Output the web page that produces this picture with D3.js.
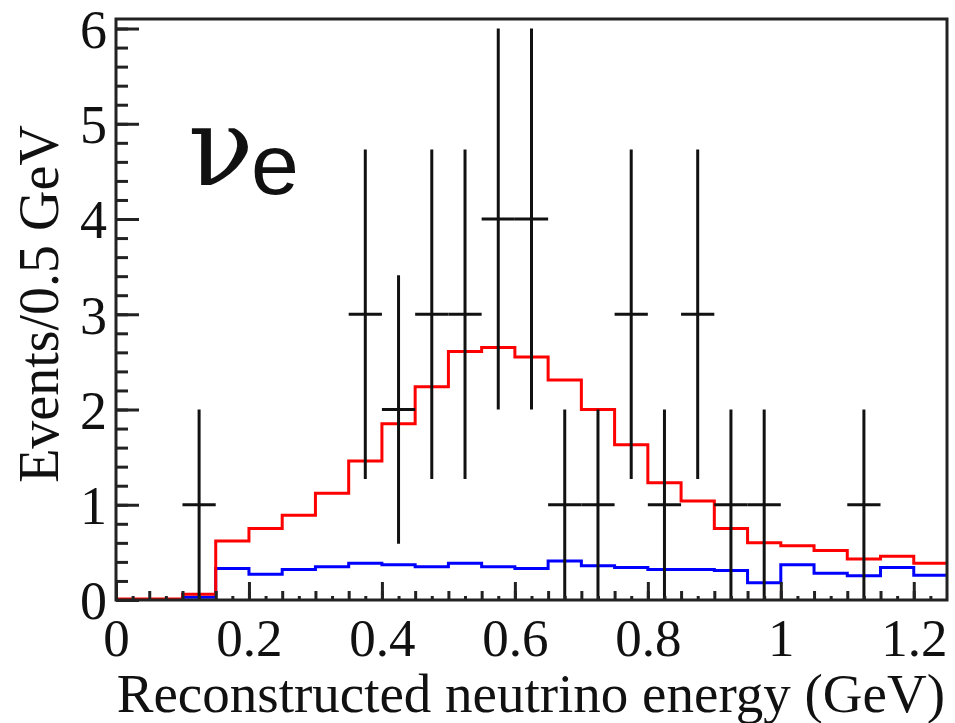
<!DOCTYPE html>
<html>
<head>
<meta charset="utf-8">
<script src="https://cdn.jsdelivr.net/npm/d3@7"></script>
<style>
  body { margin: 0; background: #fff; }
  svg { display: block; }
  text { font-family: "Liberation Serif", "Times New Roman", serif; fill: #111; }
</style>
</head>
<body>
<svg id="chart" width="955" height="723"></svg>
<script>
// bin width 0.05 GeV, 25 bins from 0 to 1.25
const binWidth = 0.05;
const nBins = 25;

// expected spectrum (red) and background (blue), per bin
const expectedTotal = [0.01, 0.01, 0.06, 0.62, 0.75, 0.89, 1.12, 1.46, 1.85, 2.24,
  2.61, 2.65, 2.55, 2.31, 2.0, 1.63, 1.23, 1.04, 0.75, 0.60,
  0.57, 0.52, 0.43, 0.46, 0.385];
const expectedBkg = [0.005, 0.005, 0.03, 0.33, 0.27, 0.32, 0.35, 0.385, 0.37, 0.35,
  0.385, 0.35, 0.33, 0.41, 0.36, 0.34, 0.32, 0.32, 0.31, 0.18,
  0.37, 0.28, 0.255, 0.34, 0.26];

// observed events
const dataX = [0.125, 0.375, 0.425, 0.475, 0.525, 0.575, 0.625, 0.675, 0.725, 0.775, 0.825, 0.875, 0.925, 0.975, 1.125];
const dataN = [1, 3, 2, 3, 3, 4, 4, 1, 1, 3, 1, 3, 1, 1, 1];
const dataErr = [1, 1.73, 1.41, 1.73, 1.73, 2, 2, 1, 1, 1.73, 1, 1.73, 1, 1, 1];

const xTicks = [0, 0.2, 0.4, 0.6, 0.8, 1, 1.2];
const yTicks = [0, 1, 2, 3, 4, 5, 6];

const svg = d3.select("#chart");
const frame = { left: 116, right: 947, top: 19, bottom: 600 };

const x = d3.scaleLinear().domain([0, 1.25]).range([frame.left, frame.right]);
const y = d3.scaleLinear().domain([0, 6.1]).range([frame.bottom, frame.top]);

// histograms as steps
const edges = d3.range(nBins + 1).map(i => i * binWidth);
const stepLine = d3.line().curve(d3.curveStepAfter).x(d => x(d[0])).y(d => y(d[1]));
const histPoints = vals => edges.map((e, i) => [e, vals[Math.min(i, nBins - 1)]]);

svg.append("path")
  .attr("d", stepLine(histPoints(expectedBkg)))
  .attr("fill", "none").attr("stroke", "#0000ff").attr("stroke-width", 3);
svg.append("path")
  .attr("d", stepLine(histPoints(expectedTotal)))
  .attr("fill", "none").attr("stroke", "#ff0000").attr("stroke-width", 3);

// data points with error bars
const pts = svg.append("g").attr("stroke", "#111").attr("stroke-width", 3);
dataX.forEach((dx, i) => {
  pts.append("line")
    .attr("x1", x(dx)).attr("x2", x(dx))
    .attr("y1", y(Math.max(0, dataN[i] - dataErr[i]))).attr("y2", y(dataN[i] + dataErr[i]));
  pts.append("line")
    .attr("x1", x(dx - binWidth / 2)).attr("x2", x(dx + binWidth / 2))
    .attr("y1", y(dataN[i])).attr("y2", y(dataN[i]));
});

// axes: ticks point inward
const axisColor = "#222";
function styleAxis(g) {
  g.select(".domain").remove();
  g.selectAll("line").attr("stroke", axisColor).attr("stroke-width", 3);
}

svg.append("g").attr("transform", `translate(0,${frame.bottom})`)
  .call(d3.axisBottom(x).tickValues(d3.range(0.025, 1.25, 0.05)).tickSize(-4).tickFormat(""))
  .call(styleAxis);
svg.append("g").attr("transform", `translate(0,${frame.bottom})`)
  .call(d3.axisBottom(x).tickValues(d3.range(0.05, 1.25, 0.05)).tickSize(-9).tickFormat(""))
  .call(styleAxis);
svg.append("g").attr("transform", `translate(0,${frame.bottom})`)
  .call(d3.axisBottom(x).tickValues(xTicks).tickSize(-18).tickFormat(d => String(d)))
  .call(styleAxis)
  .call(g => g.selectAll("text").attr("font-size", 53).attr("fill", "#111")
    .attr("y", 56).attr("dy", 0));

svg.append("g").attr("transform", `translate(${frame.left},0)`)
  .call(d3.axisLeft(y).tickValues(d3.range(0.2, 6.1, 0.2)).tickSize(-12).tickFormat(""))
  .call(styleAxis);
svg.append("g").attr("transform", `translate(${frame.left},0)`)
  .call(d3.axisLeft(y).tickValues(yTicks).tickSize(-23).tickFormat(d => String(d)))
  .call(styleAxis)
  .call(g => g.selectAll("text").attr("font-size", 54).attr("fill", "#111")
    .attr("x", -9).attr("dy", "0.35em"));

// frame
svg.append("rect")
  .attr("x", frame.left).attr("y", frame.top)
  .attr("width", frame.right - frame.left).attr("height", frame.bottom - frame.top)
  .attr("fill", "none").attr("stroke", axisColor).attr("stroke-width", 3);

// axis titles
svg.append("text")
  .attr("x", frame.right - 2).attr("y", 712)
  .attr("text-anchor", "end").attr("font-size", 55)
  .text("Reconstructed neutrino energy (GeV)");
svg.append("text")
  .attr("transform", "translate(58,304) rotate(-90)")
  .attr("text-anchor", "middle").attr("font-size", 56)
  .text("Events/0.5 GeV");

// nu_e label
svg.append("text")
  .attr("x", 188).attr("y", 185)
  .attr("font-size", 108)
  .style("font-family", "'DejaVu Serif', serif")
  .text("ν");
svg.append("text")
  .attr("x", 251).attr("y", 194)
  .attr("font-size", 86)
  .style("font-family", "'Liberation Sans', Arial, sans-serif")
  .text("e");
</script>
</body>
</html>
